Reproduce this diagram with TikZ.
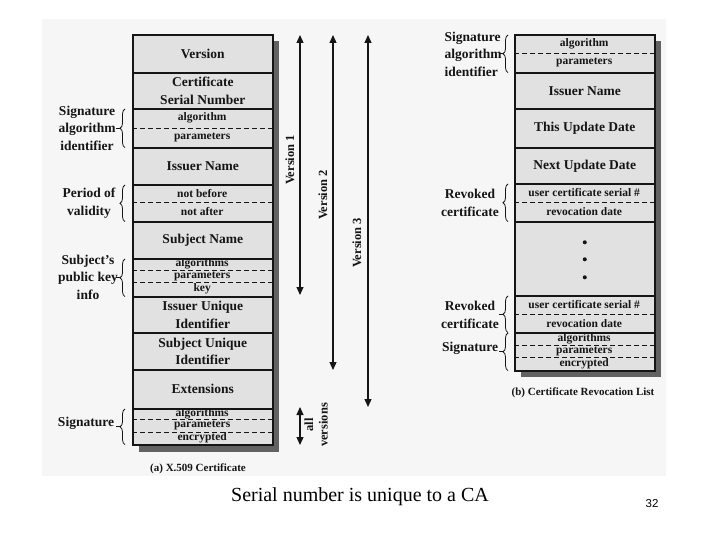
\documentclass[tikz,border=0pt]{standalone}
\usepackage{fontspec}
\setmainfont{Liberation Serif}
\newfontfamily\numfont{Liberation Sans}
\usetikzlibrary{arrows.meta,decorations.pathreplacing}
\definecolor{panel}{HTML}{F6F6F6}
\definecolor{boxgray}{HTML}{E1E1E1}
\definecolor{shadowgray}{HTML}{626262}
\definecolor{ink}{HTML}{151515}
\newcommand{\mainfnt}{\bfseries\fontsize{13.5}{17.5}\selectfont}
\newcommand{\subfnt}{\bfseries\fontsize{11.5}{13}\selectfont}
\newcommand{\verfnt}{\bfseries\fontsize{12.5}{14.5}\selectfont}
\newcommand{\capfnt}{\bfseries\fontsize{11}{13}\selectfont}
\begin{document}
\begin{tikzpicture}[x=1pt,y=-1pt,
 fld/.style={draw=ink, fill=boxgray, line width=1.6pt, minimum width=140pt, anchor=north west, inner sep=0pt, align=center, font=\mainfnt, text=ink},
 subf/.style={minimum width=140pt, anchor=north west, inner sep=0pt, font=\subfnt, text=ink},
 sepl/.style={draw=ink, dash pattern=on 5pt off 3pt, line width=1pt},
 lbl/.style={font=\mainfnt, align=center, text=ink},
 brc/.style={draw=ink, line width=0.8pt, decorate, decoration={brace, amplitude=5pt}},
 tick/.style={draw=ink, line width=0.8pt},
 varrow/.style={draw=ink, line width=1.2pt, {Triangle[width=7pt,length=8pt]}-{Triangle[width=7pt,length=8pt]}},
 vlbl/.style={font=\verfnt, rotate=90, text=ink, align=center},
 caplbl/.style={font=\capfnt, text=ink}]
\useasboundingbox (0,0) rectangle (720,540);
\fill[white] (0,0) rectangle (720,540);
\fill[panel] (42,19) rectangle (666,476);

% ---------- left column: X.509 certificate ----------
\fill[shadowgray] (139,41) rectangle (279,452);
\node[fld, minimum height=38pt] (ver) at (132,34) {Version};
\node[fld, minimum height=36pt] (csn) at (132,72) {Certificate\\Serial Number};
\node[fld, minimum height=39pt] (sa) at (132,108) {};
\node[subf, minimum height=20pt] (sa1) at (132,108) {algorithm};
\node[subf, minimum height=19pt] (sa2) at (132,128) {parameters};
\draw[sepl] (sa1.south west) -- (sa1.south east);
\node[fld, minimum height=37pt] (iss) at (132,147) {Issuer Name};
\node[fld, minimum height=37pt] (val) at (132,184) {};
\node[subf, minimum height=18pt] (val1) at (132,184) {not before};
\node[subf, minimum height=19pt] (val2) at (132,202) {not after};
\draw[sepl] (val1.south west) -- (val1.south east);
\node[fld, minimum height=37pt] (subj) at (132,221) {Subject Name};
\node[fld, minimum height=38pt] (pk) at (132,258) {};
\node[subf, minimum height=12pt] (pk1) at (132,258) {algorithms};
\node[subf, minimum height=12pt] (pk2) at (132,270) {parameters};
\node[subf, minimum height=14pt] (pk3) at (132,282) {key};
\draw[sepl] (pk1.south west) -- (pk1.south east);
\draw[sepl] (pk2.south west) -- (pk2.south east);
\node[fld, minimum height=36pt] (iuid) at (132,296) {Issuer Unique\\Identifier};
\node[fld, minimum height=37pt] (suid) at (132,332) {Subject Unique\\Identifier};
\node[fld, minimum height=39pt] (ext) at (132,369) {Extensions};
\node[fld, minimum height=36pt] (sig) at (132,408) {};
\node[subf, minimum height=11pt] (sig1) at (132,408) {algorithms};
\node[subf, minimum height=13pt] (sig2) at (132,419) {parameters};
\node[subf, minimum height=12pt] (sig3) at (132,432) {encrypted};
\draw[sepl] (sig1.south west) -- (sig1.south east);
\draw[sepl] (sig2.south west) -- (sig2.south east);
\node[caplbl] (capa) at (198,469) {(a) X.509 Certificate};

% left labels and braces
\node[lbl] (lsa) at (87,128) {Signature\\algorithm\\identifier};
\draw[brc] ([xshift=-7pt,yshift=1pt]sa.south west) -- ([xshift=-7pt,yshift=-1pt]sa.north west);
\draw[tick] ([xshift=-12pt]sa.west) -- ++(-4,0);
\node[lbl] (lval) at (89,203) {Period of\\validity};
\draw[brc] ([xshift=-7pt,yshift=1pt]val.south west) -- ([xshift=-7pt,yshift=-1pt]val.north west);
\node[lbl] (lpk) at (88,277) {Subject's\\public key\\info};
\draw[brc] ([xshift=-7pt,yshift=1pt]pk.south west) -- ([xshift=-7pt,yshift=-1pt]pk.north west);
\draw[tick] ([xshift=-12pt]pk.west) -- ++(-4,0);
\node[lbl] (lsig) at (86,423) {Signature};
\draw[brc] ([xshift=-7pt,yshift=1pt]sig.south west) -- ([xshift=-7pt,yshift=-1pt]sig.north west);
\draw[tick] ([xshift=-12pt]sig.west) -- ++(-4,0);

% version arrows
\coordinate (v1t) at (300,35);  \coordinate (v1b) at (300,295);
\coordinate (v2t) at (333,35);  \coordinate (v2b) at (333,370);
\coordinate (v3t) at (368,35);  \coordinate (v3b) at (368,407);
\coordinate (avt) at (300,407); \coordinate (avb) at (300,445);
\draw[varrow] (v1t) -- (v1b);
\draw[varrow] (v2t) -- (v2b);
\draw[varrow] (v3t) -- (v3b);
\draw[varrow] (avt) -- (avb);
\node[vlbl] (lv1) at (290,160) {Version 1};
\node[vlbl] (lv2) at (323,195) {Version 2};
\node[vlbl] (lv3) at (357,243) {Version 3};
\node[vlbl] (lav) at (316,425) {all\\versions};

% ---------- right column: CRL ----------
\fill[shadowgray] (521,41) rectangle (661,377);
\node[fld, minimum height=38pt] (rsa) at (514,34) {};
\node[subf, minimum height=19pt] (rsa1) at (514,34) {algorithm};
\node[subf, minimum height=19pt] (rsa2) at (514,53) {parameters};
\draw[sepl] (rsa1.south west) -- (rsa1.south east);
\node[fld, minimum height=36pt] (riss) at (514,72) {Issuer Name};
\node[fld, minimum height=39pt] (this) at (514,108) {This Update Date};
\node[fld, minimum height=36pt] (next) at (514,147) {Next Update Date};
\node[fld, minimum height=38pt] (rev1) at (514,183) {};
\node[subf, minimum height=19pt] (rev1a) at (514,183) {user certificate serial \#};
\node[subf, minimum height=19pt] (rev1b) at (514,202) {revocation date};
\draw[sepl] (rev1a.south west) -- (rev1a.south east);
\node[fld, minimum height=74pt] (dots) at (514,221) {};
\fill[ink] ([yshift=16.5pt]dots.center) circle (2pt);
\fill[ink] ([yshift=-0.5pt]dots.center) circle (2pt);
\fill[ink] ([yshift=-18.5pt]dots.center) circle (2pt);
\node[fld, minimum height=37pt] (rev2) at (514,295) {};
\node[subf, minimum height=19pt] (rev2a) at (514,295) {user certificate serial \#};
\node[subf, minimum height=18pt] (rev2b) at (514,314) {revocation date};
\draw[sepl] (rev2a.south west) -- (rev2a.south east);
\node[fld, minimum height=38pt] (rsig) at (514,332) {};
\node[subf, minimum height=13pt] (rsig1) at (514,332) {algorithms};
\node[subf, minimum height=12pt] (rsig2) at (514,345) {parameters};
\node[subf, minimum height=13pt] (rsig3) at (514,357) {encrypted};
\draw[sepl] (rsig1.south west) -- (rsig1.south east);
\draw[sepl] (rsig2.south west) -- (rsig2.south east);
\node[caplbl] (capb) at (583,393) {(b) Certificate Revocation List};

% right labels and braces
\node[lbl, align=left, anchor=west] (rlsa) at (441,54) {Signature\\algorithm\\identifier};
\draw[brc] ([xshift=-6pt,yshift=1pt]rsa.south west) -- ([xshift=-6pt,yshift=-1pt]rsa.north west);
\draw[tick] ([xshift=-11pt]rsa.west) -- ++(-4,0);
\node[lbl] (rlrev1) at (470,203) {Revoked\\certificate};
\draw[brc] ([xshift=-6pt,yshift=1pt]rev1.south west) -- ([xshift=-6pt,yshift=-1pt]rev1.north west);
\node[lbl] (rlrev2) at (470,315) {Revoked\\certificate};
\draw[brc] ([xshift=-6pt,yshift=1pt]rev2.south west) -- ([xshift=-6pt,yshift=-1pt]rev2.north west);
\draw[tick] ([xshift=-11pt]rev2.west) -- ++(-4,0);
\node[lbl] (rlsig) at (470,348) {Signature};
\draw[brc] ([xshift=-6pt,yshift=1pt]rsig.south west) -- ([xshift=-6pt,yshift=-1pt]rsig.north west);
\draw[tick] ([xshift=-11pt]rsig.west) -- ++(-4,0);

% ---------- slide text ----------
\node[font=\fontsize{20}{24}\selectfont, text=black] (note) at (360,497) {Serial number is unique to a CA};
\node[font=\numfont\fontsize{11.5}{13}\selectfont, text=black] (pg) at (652,504) {32};
\end{tikzpicture}
\end{document}
